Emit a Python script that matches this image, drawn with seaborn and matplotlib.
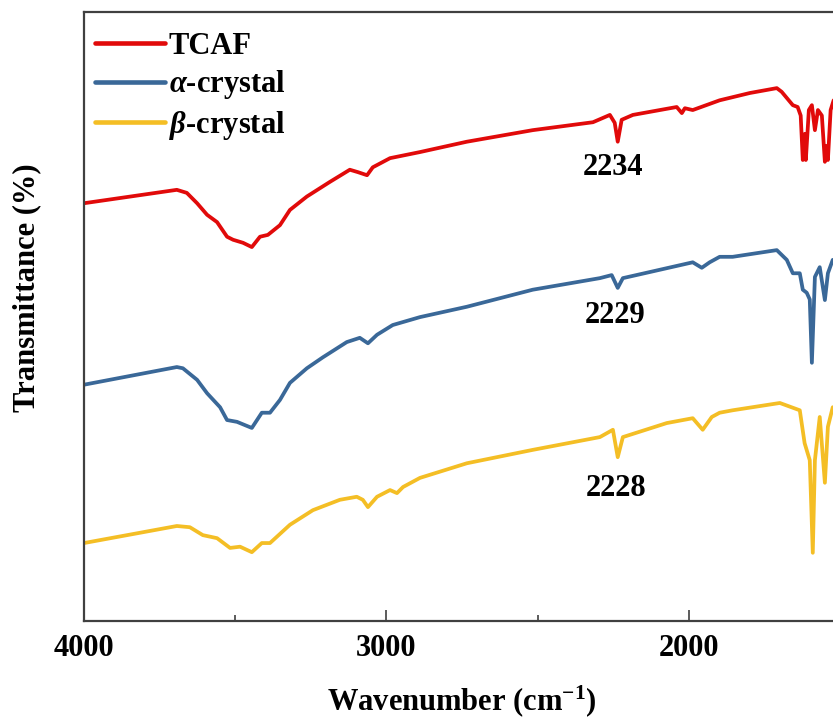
import matplotlib
matplotlib.use("Agg")
import matplotlib.pyplot as plt
import seaborn as sns
import pandas as pd

# ---- data ----
series_names = ["TCAF", r"$\alpha$-crystal", r"$\beta$-crystal"]

tcaf_wn = [4000, 3693, 3660, 3626, 3593, 3560, 3527, 3507, 3474, 3445, 3418, 3392, 3352,
           3319, 3263, 3187, 3121, 3094, 3064, 3045, 2988, 2889, 2734, 2516, 2317, 2261,
           2245, 2235, 2222, 2185, 2040, 2023, 2013, 1987, 1898, 1798, 1709, 1693, 1656,
           1640, 1630, 1623, 1616, 1613, 1603, 1593, 1583, 1573, 1560, 1550, 1545, 1540,
           1531, 1521]
tcaf_t = [68.6, 70.8, 70.3, 68.6, 66.7, 65.5, 63.1, 62.6, 62.1, 61.4, 63.1, 63.4, 65.0,
          67.5, 69.7, 72.1, 74.1, 73.7, 73.2, 74.5, 76.0, 77.0, 78.7, 80.6, 81.9, 83.1,
          81.8, 78.7, 82.3, 83.1, 84.4, 83.4, 84.2, 83.9, 85.5, 86.7, 87.5, 86.9, 84.7,
          84.4, 83.0, 75.7, 80.0, 75.7, 83.9, 84.7, 80.6, 83.9, 83.0, 75.4, 78.0, 75.7,
          83.9, 85.5]

alpha_wn = [4000, 3693, 3673, 3626, 3593, 3550, 3527, 3494, 3445, 3412, 3385, 3352, 3319,
            3263, 3210, 3131, 3088, 3061, 3031, 2979, 2889, 2734, 2516, 2294, 2255, 2235,
            2218, 2129, 1987, 1957, 1931, 1898, 1855, 1709, 1676, 1656, 1633, 1623, 1610,
            1600, 1593, 1583, 1567, 1550, 1540, 1524]
alpha_t = [38.8, 41.7, 41.5, 39.6, 37.4, 35.1, 33.0, 32.7, 31.7, 34.2, 34.2, 36.3, 39.1,
           41.5, 43.3, 45.8, 46.5, 45.6, 47.0, 48.6, 49.9, 51.6, 54.4, 56.3, 56.8, 54.7,
           56.3, 57.3, 58.9, 58.0, 58.9, 59.8, 59.8, 60.9, 59.3, 57.1, 57.1, 54.4, 53.9,
           52.8, 42.4, 56.5, 58.1, 52.7, 57.1, 59.3]

beta_wn = [4000, 3693, 3650, 3607, 3560, 3517, 3484, 3445, 3412, 3385, 3319, 3243, 3154,
           3098, 3078, 3061, 3031, 2988, 2965, 2945, 2889, 2734, 2516, 2294, 2251, 2235,
           2218, 2073, 1987, 1954, 1924, 1898, 1855, 1699, 1633, 1617, 1600, 1590, 1583,
           1567, 1550, 1540, 1524]
beta_t = [12.8, 15.6, 15.4, 14.1, 13.6, 12.0, 12.2, 11.3, 12.8, 12.8, 15.8, 18.2, 19.9,
          20.4, 19.9, 18.7, 20.4, 21.5, 21.0, 22.0, 23.5, 25.9, 28.1, 30.2, 31.4, 26.9,
          30.2, 32.5, 33.3, 31.4, 33.5, 34.2, 34.6, 35.8, 34.6, 29.2, 26.4, 11.2, 26.4,
          33.5, 22.7, 31.9, 35.1]

peak_labels = ["2234", "2229", "2228"]
peak_label_pos_wn = [2251, 2245, 2241]
peak_label_pos_t = [74.5, 50.1, 21.8]

x_ticks = [4000, 3000, 2000]
x_minor = [3500, 2500, 1500]

colors = ["#E10A0A", "#3A6898", "#F4BE25"]

# ---- build long table ----
frames = []
for name, wn, t in zip(series_names, [tcaf_wn, alpha_wn, beta_wn], [tcaf_t, alpha_t, beta_t]):
    frames.append(pd.DataFrame({"wn": wn, "T": t, "series": name}))
df = pd.concat(frames, ignore_index=True)

sns.set_style("ticks")
plt.rcParams["font.family"] = ["Liberation Serif", "DejaVu Serif"]
plt.rcParams["font.weight"] = "bold"
plt.rcParams["text.color"] = "black"
plt.rcParams["axes.labelcolor"] = "black"
plt.rcParams["xtick.color"] = "black"
plt.rcParams["mathtext.fontset"] = "custom"
plt.rcParams["mathtext.rm"] = "Liberation Serif:bold"
plt.rcParams["mathtext.bf"] = "Liberation Serif:bold"
plt.rcParams["mathtext.it"] = "Liberation Serif:italic:bold"

W, H = 833, 723
fig = plt.figure(figsize=(W / 100, H / 100), dpi=100)
ax = fig.add_axes([84 / W, (H - 621) / H, (840 - 84) / W, (621 - 12) / H])

sns.lineplot(data=df, x="wn", y="T", hue="series", palette=colors, hue_order=series_names,
             sort=False, estimator=None, linewidth=2.7, ax=ax)

ax.set_xlim(4000, 1500)
ax.set_ylim(0, 100)
ax.set_xticks(x_ticks)
ax.set_xticks(x_minor, minor=True)
ax.set_xticklabels([str(v) for v in x_ticks], fontsize=22, fontweight="bold", color="black")
ax.set_yticks([])
ax.tick_params(axis="x", which="major", direction="in", length=8, width=1.2, pad=9,
               color="#404040", labelcolor="black")
ax.tick_params(axis="x", which="minor", direction="in", length=4.5, width=1.2,
               color="#404040")
for s in ax.spines.values():
    s.set_linewidth(1.6)
    s.set_color("#404040")

ax.set_xlabel("Wavenumber (cm$^{-1}$)", fontsize=22, fontweight="bold", labelpad=15,
              color="black")
ax.set_ylabel("Transmittance (%)", fontsize=22, fontweight="bold", color="black")
ax.yaxis.set_label_coords(-0.056, 0.548)

for lab, xw, yt in zip(peak_labels, peak_label_pos_wn, peak_label_pos_t):
    ax.text(xw, yt, lab, fontsize=22, fontweight="bold", ha="center", va="center",
            color="black")

leg = ax.legend(loc="upper left", bbox_to_anchor=(0.0, 0.985), frameon=False,
                prop={"family": "Liberation Serif", "weight": "bold", "size": 22},
                handlelength=2.3, handletextpad=0.12, labelspacing=0.25,
                borderaxespad=0.25, borderpad=0.1)
for line in leg.get_lines():
    line.set_linewidth(3.3)
for txt in leg.get_texts():
    txt.set_color("black")

fig.savefig("out.png", dpi=100)
